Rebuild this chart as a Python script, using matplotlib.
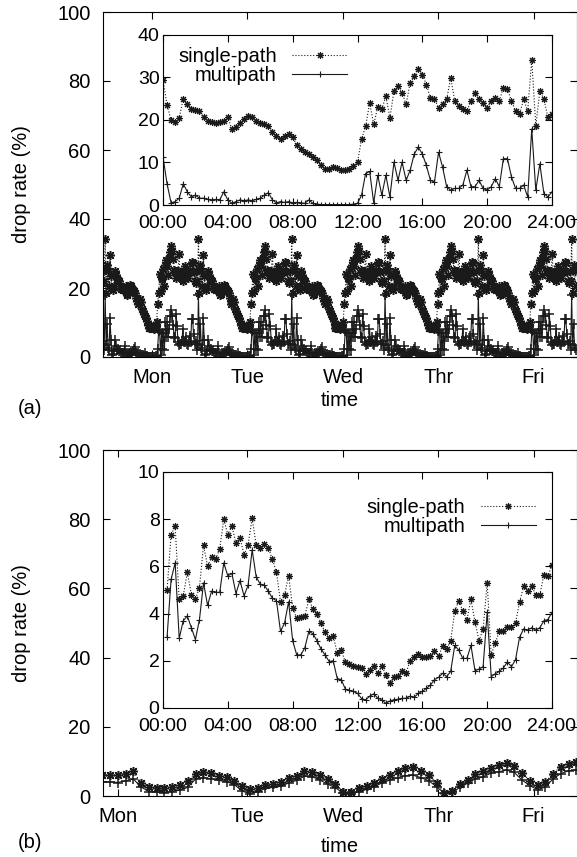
import matplotlib
matplotlib.use('Agg')
import matplotlib.pyplot as plt
import numpy as np

plt.rcParams['font.family'] = ['Liberation Sans', 'DejaVu Sans']
plt.rcParams['font.size'] = 14.5

# (a) one day, 15 min steps, 00:00 .. 24:00
hours_a = np.arange(97) * 0.25
single_a = [29.5, 23.5, 20, 19.5, 20.5, 25, 23.7, 22.5, 22.4, 22, 20.6, 19.8,
            19.6, 19.4, 19.6, 19.8, 20.6, 17.9, 18.3, 19.4, 20.2, 21, 20.7, 19.8,
            19.4, 19, 18.6, 17.1, 16.3, 15.5, 16.3, 16.7, 16, 14, 13.2, 12.4,
            12, 11.3, 10.5, 9.3, 8.5, 8.5, 8.9, 8.8, 8.3, 8.2, 8.5, 9.1,
            10.1, 15.5, 18.5, 24, 19, 23, 22.5, 25.6, 20.5, 26.8, 28, 26.4,
            23.7, 28.7, 30.3, 32.1, 30.7, 28.3, 25.2, 24.9, 22.9, 23.7, 24.9, 29.9,
            24.5, 23.3, 22.5, 22.1, 24.5, 26.4, 24.9, 24.1, 22.9, 24.5, 25.2, 24.5,
            27.6, 27.2, 24.5, 22.1, 21.4, 24.9, 22.1, 34.2, 18.6, 26.8, 24.9, 20.6,
            21.4]
multi_a = [11.3, 5, 0.5, 0.8, 1.6, 5, 3.1, 1.9, 2.3, 1.6, 1.6, 1.3,
           1.2, 1.3, 1.2, 3.1, 1.2, 0.4, 0.8, 1.2, 1.0, 1.2, 1.0, 1.3,
           1.6, 2.3, 2.9, 1.2, 0.5, 0.8, 0.6, 0.8, 0.5, 0.6, 0.5, 0.4,
           1.2, 0.4, 0.2, 0.1, 0.1, 0.1, 0.1, 0.1, 0.1, 0.1, 0.1, 0.2,
           0.4, 2.3, 7.4, 7.9, 0.5, 7, 2.3, 7, 1.9, 10.1, 5.8, 10.1,
           5.8, 8.2, 12, 13.6, 12, 9.3, 5.8, 5.4, 12.4, 8.9, 4.3, 3.5,
           3.9, 3.9, 4.7, 8.2, 4.3, 4.3, 5.8, 3.9, 3.5, 4.3, 6.2, 4.3,
           10.9, 10.9, 6.6, 3.9, 3.9, 4.7, 1.9, 17.9, 3.5, 9.7, 2.7, 1.9,
           3.1]

# (b) one day, 15 min steps, 00:15 .. 24:00
hours_b = np.arange(1, 97) * 0.25
single_b = [5.0, 7.35, 7.7, 4.6, 4.75, 5.75, 4.8, 4.6, 5.1, 6.9, 6.0, 6.4,
            6.3, 6.75, 8.0, 7.35, 7.7, 7.0, 7.2, 6.5, 6.9, 8.05, 6.9, 6.8,
            6.95, 6.8, 6.3, 5.75, 4.5, 4.8, 5.6, 4.25, 3.8, 3.85, 3.9, 4.6,
            4.2, 4.0, 3.6, 3.2, 2.95, 3.05, 2.35, 2.45, 1.95, 1.85, 1.8, 1.75,
            1.7, 1.42, 1.6, 1.78, 1.47, 1.78, 1.4, 1.05, 1.3, 1.35, 1.58, 1.5,
            2.0, 2.17, 2.3, 2.17, 2.14, 2.2, 2.4, 2.2, 2.62, 2.5, 2.85, 4.1,
            4.55, 4.1, 3.75, 4.6, 3.65, 2.85, 3.35, 5.3, 2.25, 2.75, 3.25, 3.25,
            3.45, 3.45, 3.6, 4.5, 5.15, 4.95, 5.15, 4.8, 4.8, 5.65, 5.6, 6.05]
multi_b = [3.0, 5.45, 6.15, 2.95, 3.7, 3.9, 3.4, 2.9, 3.75, 5.3, 4.35, 4.95,
           4.9, 4.9, 6.15, 5.6, 5.7, 4.85, 5.4, 4.75, 5.2, 6.7, 5.55, 5.25,
           5.2, 4.95, 4.65, 4.55, 3.25, 3.6, 4.5, 2.85, 2.25, 2.25, 2.55, 3.25,
           3.15, 2.85, 2.5, 2.25, 1.97, 2.0, 1.25, 1.2, 0.8, 0.75, 0.7, 0.62,
           0.4, 0.34, 0.5, 0.6, 0.42, 0.34, 0.2, 0.3, 0.35, 0.37, 0.41, 0.41,
           0.5, 0.45, 0.62, 0.7, 0.83, 0.97, 1.2, 1.3, 1.47, 1.33, 1.55, 2.65,
           2.45, 2.1, 2.1, 2.65, 1.58, 1.65, 1.75, 4.05, 1.33, 1.45, 1.55, 1.7,
           1.95, 1.75, 2.05, 3.0, 3.35, 3.3, 3.4, 3.3, 3.4, 3.7, 3.75, 4.05]

# (b) whole week, every 2 hours
week_hours_b = np.arange(-2, 121, 2)
week_single_b = [6.1, 6.1, 6.1, 6.5, 7.1, 3.7, 2.6, 2.3, 2.2, 2.6, 3.2, 4.4,
                 6.3, 6.9, 6.6, 5.9, 5.6, 4.2, 3.0, 1.9, 2.3, 3.2, 3.5, 4.0,
                 5.2, 5.9, 7.2, 6.8, 6.1, 5.0, 3.4, 1.3, 1.2, 2.2, 2.8, 3.8,
                 5.0, 6.0, 7.3, 8.2, 8.5, 7.3, 6.0, 3.7, 1.0, 1.5, 3.4, 4.6,
                 6.5, 7.3, 8.2, 8.9, 9.4, 8.8, 6.6, 4.4, 3.3, 4.1, 6.5, 8.5,
                 9.3, 9.9]
week_multi_b = [4.1, 4.1, 3.9, 4.4, 4.9, 2.6, 1.3, 1.1, 1.0, 1.3, 1.7, 2.5,
                4.9, 5.3, 5.0, 4.5, 4.1, 3.3, 1.4, 0.7, 1.2, 2.2, 2.5, 2.8,
                3.8, 4.5, 5.7, 5.6, 4.6, 3.4, 2.4, 0.8, 0.7, 1.2, 1.9, 2.7,
                3.8, 4.6, 5.3, 5.9, 6.0, 5.3, 4.4, 2.7, 0.8, 1.0, 2.5, 3.7,
                5.0, 5.5, 6.6, 7.0, 7.5, 6.8, 4.6, 3.0, 1.8, 2.6, 5.0, 6.5,
                7.3, 7.5]

day_names = ['Mon', 'Tue', 'Wed', 'Thr', 'Fri']
day_ticks_a = [0.45, 1.47, 2.50, 3.52, 4.54]
day_ticks_b = [0.086, 1.47, 2.50, 3.52, 4.54]
hour_ticks = [0, 4, 8, 12, 16, 20, 24]
hour_labels = ['00:00', '04:00', '08:00', '12:00', '16:00', '20:00', '24:00']

W, H = 577, 857
fig = plt.figure(figsize=(W / 100, H / 100), dpi=100)


def box(l, t, r, b):
    return [l / W, 1 - b / H, (r - l) / W, (b - t) / H]


def style(ax, xpad, ypad, size=14.5):
    ax.tick_params(direction='in', top=True, right=True, length=5, width=0.8,
                   labelsize=size)
    ax.tick_params(axis='x', pad=xpad)
    ax.tick_params(axis='y', pad=ypad)
    for s in ax.spines.values():
        s.set_linewidth(0.8)


star = (8, 2, 0)  # gnuplot-like asterisk
sp_kw = dict(color='#1a1a1a', ls=':', lw=0.8, marker=star, ms=5, mew=0.8)
mp_kw = dict(color='#1a1a1a', ls='-', lw=0.8, marker='+', ms=5, mew=0.8)
big = dict(ms=6.5, mew=1.1)

# ---- (a) main: the same day repeated through the week
days = np.arange(-1, 5)
x_week_a = np.concatenate([d + hours_a[:-1] / 24 for d in days])
ax_a = fig.add_axes(box(103, 12, 576.5, 357))
ax_a.plot(x_week_a, np.tile(single_a[:-1], len(days)), **{**sp_kw, **big})
ax_a.plot(x_week_a, np.tile(multi_a[:-1], len(days)), **{**mp_kw, **big})
ax_a.set_xlim(-0.075, 5.0)
ax_a.set_ylim(0, 100)
ax_a.set_yticks(range(0, 101, 20))
ax_a.set_xticks(day_ticks_a)
ax_a.set_xticklabels(day_names)
style(ax_a, 8, 9)

ins_a = fig.add_axes(box(163, 35, 552, 205))
ins_a.plot(hours_a, single_a, label='single-path', **sp_kw)
ins_a.plot(hours_a, multi_a, label='multipath', **mp_kw)
ins_a.set_xlim(0, 24)
ins_a.set_ylim(0, 40)
ins_a.set_yticks(range(0, 41, 10))
ins_a.set_xticks(hour_ticks)
ins_a.set_xticklabels(hour_labels)
style(ins_a, 7, 2.5, 14)
ins_a.legend(loc='upper left', bbox_to_anchor=(0.039, 0.93), frameon=False,
             markerfirst=False, numpoints=1, handlelength=2.75,
             handletextpad=0.75, labelspacing=0, borderpad=0, borderaxespad=0)

# ---- (b) main
ax_b = fig.add_axes(box(103, 450, 576.5, 796))
ax_b.plot(week_hours_b / 24, week_single_b, **{**sp_kw, **big})
ax_b.plot(week_hours_b / 24, week_multi_b, **{**mp_kw, **big})
ax_b.set_xlim(-0.075, 5.0)
ax_b.set_ylim(0, 100)
ax_b.set_yticks(range(0, 101, 20))
ax_b.set_xticks(day_ticks_b)
ax_b.set_xticklabels(day_names)
style(ax_b, 8, 9)

ins_b = fig.add_axes(box(163, 472, 552, 708))
ins_b.plot(hours_b, single_b, label='single-path', **sp_kw)
ins_b.plot(hours_b, multi_b, label='multipath', **mp_kw)
ins_b.set_xlim(0, 24)
ins_b.set_ylim(0, 10)
ins_b.set_yticks(range(0, 11, 2))
ins_b.set_xticks(hour_ticks)
ins_b.set_xticklabels(hour_labels)
style(ins_b, 7, 2.5, 14)
ins_b.legend(loc='upper left', bbox_to_anchor=(0.524, 0.89), frameon=False,
             markerfirst=False, numpoints=1, handlelength=2.75,
             handletextpad=0.75, labelspacing=0, borderpad=0, borderaxespad=0)

for yc in (184, 623):
    fig.text(22 / W, 1 - yc / H, 'drop rate (%)', rotation=90,
             ha='center', va='center')
fig.text(340 / W, 1 - 400 / H, 'time', ha='center', va='center')
fig.text(340 / W, 1 - 846 / H, 'time', ha='center', va='center')
fig.text(30 / W, 1 - 408 / H, '(a)', ha='center', va='center')
fig.text(30 / W, 1 - 842 / H, '(b)', ha='center', va='center')

fig.savefig('out.png', dpi=100)
